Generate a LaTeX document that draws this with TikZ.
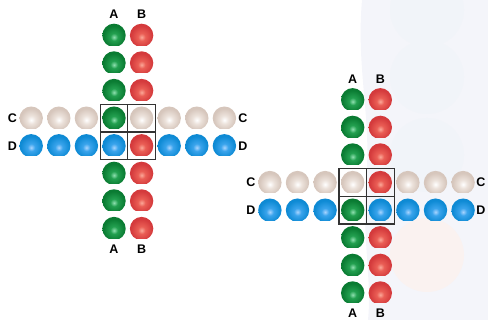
\documentclass[tikz,border=0pt]{standalone}
\usepackage{fontspec}
\setmainfont{Liberation Sans}
\usetikzlibrary{positioning}
\definecolor{greenD}{HTML}{0A7B32}
\definecolor{greenM}{HTML}{23A050}
\definecolor{greenL}{HTML}{8FE0B0}
\definecolor{redD}{HTML}{D43A3C}
\definecolor{redM}{HTML}{EA5E55}
\definecolor{redL}{HTML}{FBA898}
\definecolor{beigeD}{HTML}{D6C6BC}
\definecolor{beigeM}{HTML}{ECE2DB}
\definecolor{beigeL}{HTML}{FFFFFF}
\definecolor{blueD}{HTML}{0E8AD4}
\definecolor{blueM}{HTML}{3AA4EC}
\definecolor{blueL}{HTML}{A8D4FF}
\definecolor{backdropC}{HTML}{F4F5FA}
\definecolor{bubbleC}{HTML}{F1F4F9}
\definecolor{bubblepinkC}{HTML}{FAF2F0}
\pgfdeclareradialshading{beadgreen}{\pgfpoint{0bp}{-4bp}}{color(0bp)=(greenL); color(8bp)=(greenM); color(23bp)=(greenD); color(50bp)=(greenD)}
\pgfdeclareradialshading{beadred}{\pgfpoint{0bp}{-4bp}}{color(0bp)=(redL); color(8bp)=(redM); color(23bp)=(redD); color(50bp)=(redD)}
\pgfdeclareradialshading{beadbeige}{\pgfpoint{0bp}{-4bp}}{color(0bp)=(beigeL); color(9bp)=(beigeM); color(23bp)=(beigeD); color(50bp)=(beigeD)}
\pgfdeclareradialshading{beadblue}{\pgfpoint{0bp}{-4bp}}{color(0bp)=(blueL); color(8bp)=(blueM); color(23bp)=(blueD); color(50bp)=(blueD)}
\tikzstyle{backdrop} = [fill=backdropC]
\tikzstyle{bubble} = [fill=bubbleC]
\tikzstyle{bubblepink} = [fill=bubblepinkC]
\tikzstyle{cellgrid} = [line width=1.2pt, draw=black!80]
\tikzstyle{tag} = [inner sep=0pt, font=\bfseries\fontsize{12.5}{13}\selectfont]
\newcommand{\beadgap}{27.6}
% one bead with its flat bottom
\newcommand{\drawbead}[3]{%
  \begin{scope}[shift={(#1,#2)}]
    \clip (-13,-10) rectangle (13,13);
    \shade[shading=#3] (0,0) circle (11.7);
  \end{scope}}
\begin{document}
\begin{tikzpicture}[x=1pt, y=1pt]
    \useasboundingbox (0,0) rectangle (488,320);
    % pale backdrop on the right
    \fill[backdrop] (362,320) .. controls (356,250) and (372,200) .. (366,140) .. controls (362,80) and (372,40) .. (368,0) -- (488,0) -- (488,320) -- cycle;
    \foreach \y in {310,243,165} \fill[bubble] (427,\y) circle (37);
    \fill[bubblepink] (427,65) circle (37);

    % left cross
    \begin{scope}[shift={(127.8,188)}]
        \foreach \k in {-3.5,-2.5,-1.5,1.5,2.5,3.5} {
            \drawbead{-0.5*\beadgap}{\k*\beadgap}{beadgreen}
            \drawbead{0.5*\beadgap}{\k*\beadgap}{beadred}
            \drawbead{\k*\beadgap}{0.5*\beadgap}{beadbeige}
            \drawbead{\k*\beadgap}{-0.5*\beadgap}{beadblue}
        }
        \drawbead{-0.5*\beadgap}{0.5*\beadgap}{beadgreen}
        \drawbead{0.5*\beadgap}{0.5*\beadgap}{beadbeige}
        \drawbead{-0.5*\beadgap}{-0.5*\beadgap}{beadblue}
        \drawbead{0.5*\beadgap}{-0.5*\beadgap}{beadred}
        \draw[cellgrid] (-\beadgap,-\beadgap) rectangle (\beadgap,\beadgap);
        \draw[cellgrid] (0,-\beadgap) -- (0,\beadgap);
        \draw[cellgrid] (-\beadgap,0) -- (\beadgap,0);
        \node (ltopa) [tag] at (-0.5*\beadgap,117.5) {A};
        \node (ltopb) [tag] at (0.5*\beadgap,117.5) {B};
        \node (lbota) [tag] at (-0.5*\beadgap,-117.5) {A};
        \node (lbotb) [tag] at (0.5*\beadgap,-117.5) {B};
        \node (lleftc) [tag] at (-115.5,0.5*\beadgap) {C};
        \node (lleftd) [tag] at (-115.5,-0.5*\beadgap) {D};
        \node (lrightc) [tag] at (115,0.5*\beadgap) {C};
        \node (lrightd) [tag] at (115,-0.5*\beadgap) {D};
    \end{scope}

    % right cross
    \begin{scope}[shift={(366.5,123.6)}]
        \foreach \k in {-3.5,-2.5,-1.5,1.5,2.5,3.5} {
            \drawbead{-0.5*\beadgap}{\k*\beadgap}{beadgreen}
            \drawbead{0.5*\beadgap}{\k*\beadgap}{beadred}
            \drawbead{\k*\beadgap}{0.5*\beadgap}{beadbeige}
            \drawbead{\k*\beadgap}{-0.5*\beadgap}{beadblue}
        }
        \drawbead{-0.5*\beadgap}{0.5*\beadgap}{beadbeige}
        \drawbead{0.5*\beadgap}{0.5*\beadgap}{beadred}
        \drawbead{-0.5*\beadgap}{-0.5*\beadgap}{beadgreen}
        \drawbead{0.5*\beadgap}{-0.5*\beadgap}{beadblue}
        \draw[cellgrid] (-\beadgap,-\beadgap) rectangle (\beadgap,\beadgap);
        \draw[cellgrid] (0,-\beadgap) -- (0,\beadgap);
        \draw[cellgrid] (-\beadgap,0) -- (\beadgap,0);
        \node (rtopa) [tag] at (-0.5*\beadgap,117.5) {A};
        \node (rtopb) [tag] at (0.5*\beadgap,117.5) {B};
        \node (rbota) [tag] at (-0.5*\beadgap,-116.5) {A};
        \node (rbotb) [tag] at (0.5*\beadgap,-116.5) {B};
        \node (rleftc) [tag] at (-115.5,0.5*\beadgap) {C};
        \node (rleftd) [tag] at (-115.5,-0.5*\beadgap) {D};
        \node (rrightc) [tag] at (114.5,0.5*\beadgap) {C};
        \node (rrightd) [tag] at (114.5,-0.5*\beadgap) {D};
    \end{scope}
\end{tikzpicture}
\end{document}
